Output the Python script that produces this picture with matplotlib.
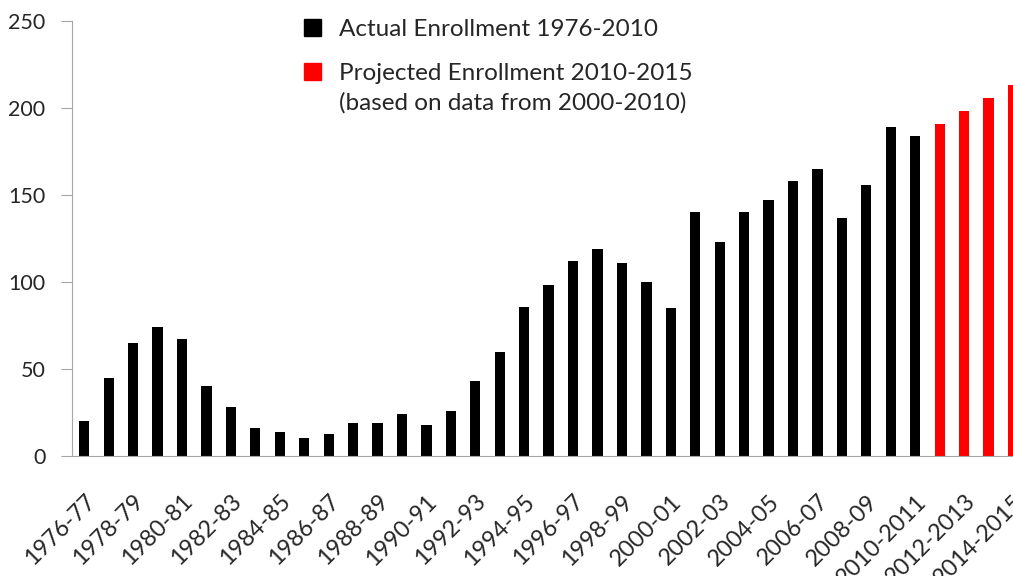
import numpy as np
import matplotlib.pyplot as plt
from matplotlib.patches import Patch

# --------------------------------------------------
# Data
# --------------------------------------------------

years = [
    "1976-77", "1977-78", "1978-79", "1979-80", "1980-81", "1981-82",
    "1982-83", "1983-84", "1984-85", "1985-86", "1986-87", "1987-88",
    "1988-89", "1989-90", "1990-91", "1991-92", "1992-93", "1993-94",
    "1994-95", "1995-96", "1996-97", "1997-98", "1998-99", "1999-00",
    "2000-01", "2001-02", "2002-03", "2003-04", "2004-05", "2005-06",
    "2006-07", "2007-08", "2008-09", "2009-10", "2010-2011",
    "2011-2012", "2012-2013", "2013-2014", "2014-2015",
]

actual = [
    20, 45, 65, 74, 67, 40, 28, 16, 14, 10.5, 12.5, 19, 19, 24, 18, 26,
    43, 60, 85.5, 98, 112, 119, 111, 100, 85, 140, 123, 140, 147, 158,
    165, 137, 156, 189, 184,
]

projected = [191, 198.5, 206, 213]

legend_labels = [
    "Actual Enrollment 1976-2010",
    "Projected Enrollment 2010-2015",
]
legend_note = "(based on data from 2000-2010)"

# --------------------------------------------------
# Figure
# --------------------------------------------------

plt.rcParams["font.family"] = ["Lato", "DejaVu Sans"]

YTICK_FS = 15.5
XTICK_FS = 16.8
LEG_FS = 17.5
TEXT = "#262626"
SPINE = "#a6a6a6"
RED = "#ff0000"

fig = plt.figure(figsize=(10.13, 5.76), dpi=100)
ax = fig.add_axes([72 / 1013, 120 / 576, 941 / 1013, 435 / 576])

x_act = np.arange(len(actual))
x_proj = np.arange(len(actual), len(actual) + len(projected))

ax.bar(x_act, actual, width=0.42, color="black")
ax.bar(x_proj, projected, width=0.42, color=RED)

ax.set_xlim(-0.5, 38.0)
ax.set_ylim(0, 250)

ax.set_yticks([0, 50, 100, 150, 200, 250])
ax.tick_params(
    axis="y",
    length=8,
    color=SPINE,
    labelsize=YTICK_FS,
    labelcolor=TEXT,
    pad=11,
)

ticks = np.arange(0, len(years), 2)
ax.set_xticks(ticks)
ax.set_xticklabels(
    [years[i] for i in ticks],
    rotation=45,
    ha="right",
    va="top",
    rotation_mode="anchor",
)
ax.tick_params(
    axis="x",
    length=0,
    labelsize=XTICK_FS,
    labelcolor=TEXT,
    pad=25,
)

for side in ["top", "right"]:
    ax.spines[side].set_visible(False)
ax.spines["left"].set_color(SPINE)
ax.spines["bottom"].set_color(SPINE)

# --------------------------------------------------
# Legend
# --------------------------------------------------

handles = [
    Patch(facecolor="black", edgecolor="black"),
    Patch(facecolor=RED, edgecolor=RED),
]

leg = fig.legend(
    handles,
    legend_labels,
    loc="upper left",
    bbox_to_anchor=(282 / 1013, 1 + 3 / 576),
    frameon=False,
    fontsize=LEG_FS,
    labelcolor=TEXT,
    handlelength=0.7,
    handleheight=0.7,
    handletextpad=0.75,
    labelspacing=0.95,
)

fig.canvas.draw()
last = leg.get_texts()[-1].get_window_extent()
fig.text(
    last.x0 / fig.bbox.width,
    (last.y0 - 8) / fig.bbox.height,
    legend_note,
    fontsize=LEG_FS,
    color=TEXT,
    ha="left",
    va="top",
)

fig.savefig("out.png", dpi=100)
